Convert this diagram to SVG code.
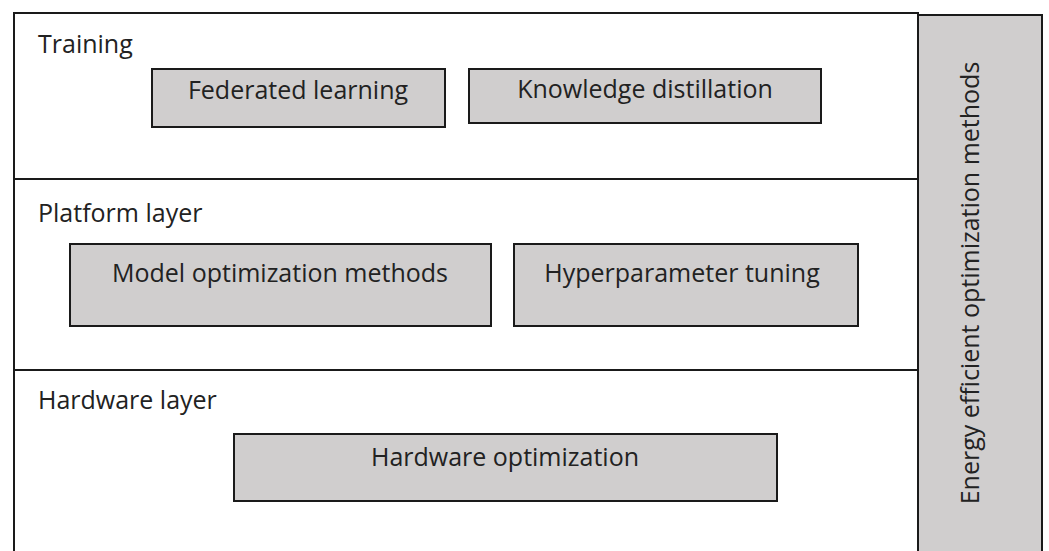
<svg xmlns="http://www.w3.org/2000/svg" width="1049" height="551" viewBox="0 0 1049 551">
  <style>
    .line { stroke: #1a1a1a; stroke-width: 2; fill: none; }
    .box { fill: #d0cece; stroke: #1a1a1a; stroke-width: 2; }
    .label { font-family: "Open Sans", "Liberation Sans", sans-serif; font-size: 25px; fill: #222222; }
    .center { text-anchor: middle; }
  </style>
  <rect width="1049" height="551" fill="#ffffff"/>

  <!-- layered panel -->
  <g id="panel">
    <path class="line" d="M14 551 V13 H918 V551"/>
    <line class="line" x1="14" y1="179" x2="918" y2="179"/>
    <line class="line" x1="14" y1="370" x2="918" y2="370"/>
  </g>

  <g id="training">
    <text class="label" x="38" y="53">Training</text>
  </g>
  <g id="federated-learning">
    <rect class="box" x="152" y="69" width="293" height="58"/>
    <text class="label center" x="298" y="99">Federated learning</text>
  </g>
  <g id="knowledge-distillation">
    <rect class="box" x="469" y="69" width="352" height="54"/>
    <text class="label center" x="645" y="98">Knowledge distillation</text>
  </g>

  <g id="platform-layer">
    <text class="label" x="38" y="222">Platform layer</text>
  </g>
  <g id="model-optimization">
    <rect class="box" x="70" y="244" width="421" height="82"/>
    <text class="label center" x="280" y="282">Model optimization methods</text>
  </g>
  <g id="hyperparameter-tuning">
    <rect class="box" x="514" y="244" width="344" height="82"/>
    <text class="label center" x="682" y="282">Hyperparameter tuning</text>
  </g>

  <g id="hardware-layer">
    <text class="label" x="38" y="409">Hardware layer</text>
  </g>
  <g id="hardware-optimization">
    <rect class="box" x="234" y="434" width="543" height="67"/>
    <text class="label center" x="505" y="466">Hardware optimization</text>
  </g>

  <g id="energy-methods">
    <rect class="box" x="918" y="15" width="124" height="540"/>
    <text class="label center" transform="translate(979 283) rotate(-90)">Energy efficient optimization methods</text>
  </g>

  <g id="connectors"></g>
</svg>
